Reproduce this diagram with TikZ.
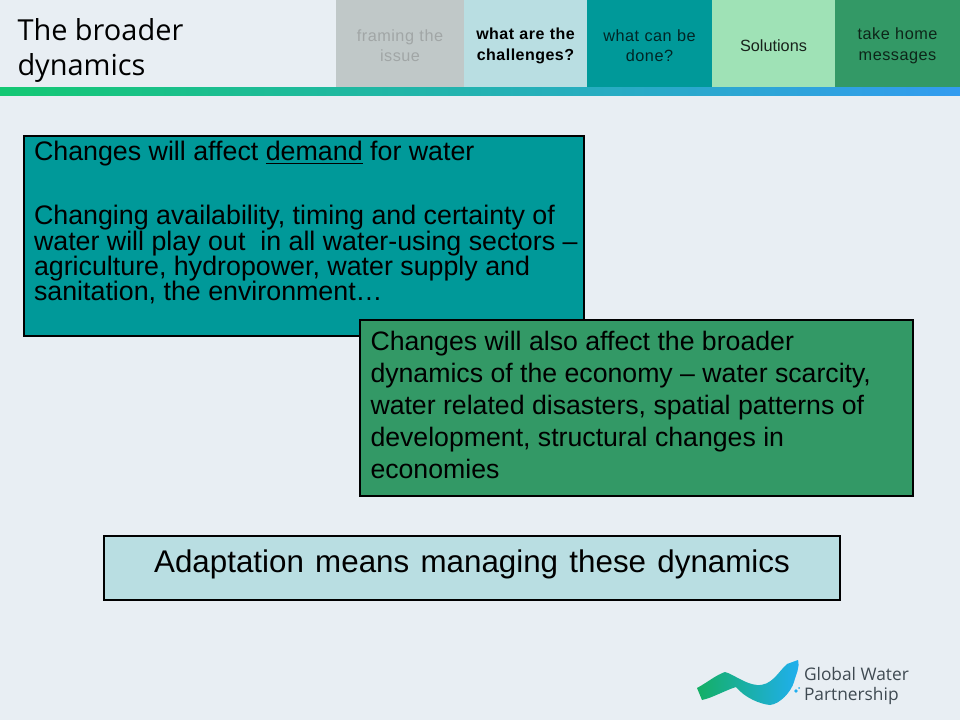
\documentclass[tikz,border=0pt]{standalone}
\usepackage{fontspec}
\setmainfont{Liberation Sans}
\newfontfamily\titlefont{Open Sans}
\definecolor{bgc}{HTML}{E8EEF3}
\definecolor{navgrey}{HTML}{C0C8C8}
\definecolor{navpale}{HTML}{B9DEE2}
\definecolor{navteal}{HTML}{009999}
\definecolor{navmint}{HTML}{9FE2B6}
\definecolor{navgreen}{HTML}{339966}
\definecolor{bargreen}{HTML}{14C873}
\definecolor{barmid}{HTML}{22B6C0}
\definecolor{barblue}{HTML}{339CF0}
\definecolor{logotext}{HTML}{3F4A52}
\definecolor{logogreen}{HTML}{14AF64}
\definecolor{logomid}{HTML}{14B9A5}
\definecolor{logoblue}{HTML}{20AFF0}
\tikzset{
  x=0.75pt,y=-0.75pt,
  navbox/.style={anchor=north west,minimum height=68.5pt,inner sep=0pt,outer sep=0pt,text width=#1,align=center,minimum width=#1,font=\fontsize{12.2pt}{15.7pt}\selectfont},
  bodybox/.style={draw=black,line width=1.5pt,inner sep=0pt,outer sep=0pt,anchor=north west},
  bodytext/.style={anchor=north west,inner sep=0pt,outer sep=0pt,align=left,text=black},
}
\begin{document}
\begin{tikzpicture}
\useasboundingbox (0,0) rectangle (960,720);
\fill[bgc] (0,0) rectangle (960,720);
% navigation
\node[navbox=96pt,fill=navgrey,text=black!25!navgrey!85!white] (nav1) at (336,0) {\addfontfeature{LetterSpace=3}framing the\\issue};
\node[navbox=92.25pt,fill=navpale,text=black,font=\fontsize{12pt}{15.7pt}\selectfont\bfseries] (nav2) at (464,0) {\addfontfeature{LetterSpace=3}what are the\\challenges?};
\node[navbox=93.75pt,fill=navteal,text=black!75!navteal] (nav3) at (587,0) {\addfontfeature{LetterSpace=3}what can be\\done?};
\node[navbox=92.25pt,fill=navmint,text=black!85!navmint] (nav4) at (712,0) {Solutions};
\node[navbox=93.75pt,fill=navgreen,text=black!75!navgreen] (nav5) at (835,0) {\addfontfeature{LetterSpace=3}take home\\messages};
% gradient bar
\shade[left color=bargreen,middle color=barmid,right color=barblue] (0,88) rectangle (960,96);
% title
\node[anchor=north west,inner sep=0pt,outer sep=0pt,align=left,font=\titlefont\fontsize{21.7pt}{26.2pt}\selectfont,text=black] (title) at (17.5,18.5) {The broader\\dynamics};
% boxes
\node[bodybox,fill=navteal,minimum width=420pt,minimum height=150pt] (boxa) at (24,136) {};
\node[bodytext,font=\fontsize{20.1pt}{19pt}\selectfont] (texta1) at (34,141.5) {Changes will affect \underline{demand} for water};
\node[bodytext,font=\fontsize{20.1pt}{19pt}\selectfont] (texta2) at (34,205.5) {Changing availability, timing and certainty of\\water will play out~ in all water-using sectors –\\agriculture, hydropower, water supply and\\sanitation, the environment…};
\node[bodybox,fill=navgreen,minimum width=414.75pt,minimum height=132pt] (boxb) at (360,320) {};
\node[bodytext,font=\fontsize{20pt}{24pt}\selectfont] (textb) at (370.5,331) {Changes will also affect the broader\\dynamics of the economy – water scarcity,\\water related disasters, spatial patterns of\\development, structural changes in\\economies};
\node[bodybox,fill=navpale,minimum width=552pt,minimum height=48pt] (boxc) at (104,536) {};
\node[inner sep=0pt,outer sep=0pt,font=\fontsize{23.5pt}{26pt}\selectfont,text=black] (textc) at (472,564) {\spaceskip=1.3\fontdimen2\font Adaptation means managing these dynamics};
% logo
\shade[left color=logogreen,middle color=logomid,right color=logoblue]
  (697,688) .. controls (708,682) and (716,675) .. (725,672)
  .. controls (733,674) and (745,684) .. (757,685)
  .. controls (772,686) and (778,672) .. (787,664)
  -- (798,660) .. controls (800,668) and (796,674) .. (794,682)
  .. controls (791,692) and (780,704) .. (770,705)
  .. controls (760,704) and (745,698) .. (736,687)
  .. controls (726,690) and (712,698) .. (702,700) -- cycle;
\fill[logoblue] (796,691) circle (1.8);
\fill[logoblue] (799,688) circle (1);
\node[anchor=north west,inner sep=0pt,outer sep=0pt,align=left,text=logotext,font=\titlefont\fontsize{13pt}{15.5pt}\selectfont] (logo) at (804,667) {Global Water\\Partnership};
\end{tikzpicture}
\end{document}
